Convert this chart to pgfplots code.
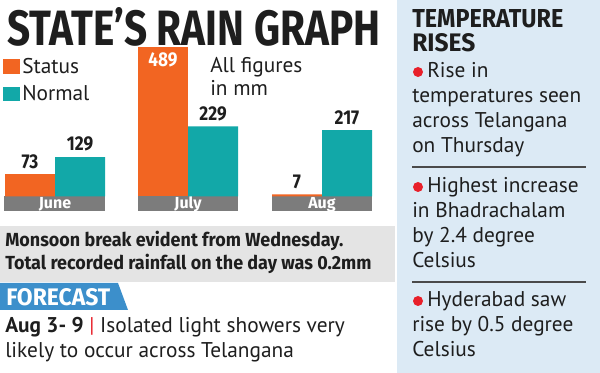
\documentclass[border=0pt]{standalone}
\usepackage{pgfplots}
\pgfplotsset{compat=1.18}
\usepackage{fontspec}
\setmainfont{PT Sans}
\newfontfamily\headfont{Fira Sans}[FakeStretch=0.86]
\newfontfamily\bodyhead{Fira Sans}[FakeStretch=0.95]
\newfontfamily\headfontw{Fira Sans}
\definecolor{orng}{HTML}{F26522}
\definecolor{teal2}{HTML}{12A8A8}
\definecolor{band}{HTML}{7C7C7C}
\definecolor{lgray}{HTML}{E4E4E4}
\definecolor{panel}{HTML}{DCEAF5}
\definecolor{fblue}{HTML}{3C8FCB}
\definecolor{bred}{HTML}{E8202A}
\definecolor{ink}{HTML}{1E1E1E}
\definecolor{sep}{HTML}{4A4A4A}
\begin{document}
\begin{tikzpicture}[x=0.75pt,y=0.75pt]
\fill[white] (0,0) rectangle (600,373);
\fill[panel] (397,0) rectangle (600,373);
\fill[lgray] (0,91) rectangle (395,147);
% category bands
\fill[band] (4,162) rectangle (105,176.5);
\fill[band] (138,162) rectangle (238,176.5);
\fill[band] (272,162) rectangle (372,176.5);
% title
\node[anchor=south west, inner sep=0] at (7,326) {\resizebox{279.75pt}{28.5pt}{\color{ink}\headfont\bfseries STATE’S RAIN GRAPH}};
% all figures
\node[anchor=base west, inner sep=0, text=ink, font=\fontsize{16}{19}\selectfont] at (210,300) {All figures};
\node[anchor=base west, inner sep=0, text=ink, font=\fontsize{16}{19}\selectfont] at (210,277) {in mm};
% chart
\begin{axis}[
  at={(0pt,132.375pt)}, anchor=south west, scale only axis,
  width=300pt, height=112.125pt,
  xmin=0, xmax=400, ymin=0, ymax=489,
  axis line style={draw=none}, ytick=\empty,
  xtick={55,188,322}, xticklabels={June,July,Aug},
  major tick length=0pt,
  xticklabel style={font=\headfontw\bfseries\fontsize{12}{12}\selectfont, text=white, anchor=base, yshift=-9pt},
  ybar, bar shift=0pt, bar width=37.5pt,
  clip=false,
  nodes near coords,
  /pgf/number format/assume math mode=true,
  every node near coord/.append style={font=\headfont\bfseries\fontsize{15}{15}\selectfont, text=ink, inner sep=0pt, anchor=south, yshift=4pt},
  legend style={at={(axis description cs:0.0075,0.94)}, anchor=north west, draw=none, fill=none,
    font=\fontsize{16}{19}\selectfont, inner sep=0pt, row sep=4.5pt, nodes={inner sep=1.5pt, text=ink}},
  legend cell align=left,
  legend image code/.code={\path[#1] (0pt,-5.6pt) rectangle (12.75pt,5.6pt);},
]
\addplot[fill=orng, draw=none] coordinates {(30,73) (297,7)};
\addlegendentry{Status}
\addplot[fill=teal2, draw=none] coordinates {(80,129) (213,229) (347,217)};
\addlegendentry{Normal}
\addplot[fill=orng, draw=none, forget plot, every node near coord/.append style={text=white, anchor=north, yshift=-8.25pt}] coordinates {(163,489)};
\end{axis}
% monsoon text
\node[anchor=base west, inner sep=0, text=ink, font=\bodyhead\bfseries\fontsize{14.2}{17}\selectfont] at (5,126) {Monsoon break evident from Wednesday.};
\node[anchor=base west, inner sep=0, text=ink, font=\bodyhead\bfseries\fontsize{14.2}{17}\selectfont] at (5,103) {Total recorded rainfall on the day was 0.2mm};
% forecast
\fill[fblue] (0,90) -- (118,90) -- (128,63) -- (0,63) -- cycle;
\node[anchor=south west, inner sep=0] at (6,67) {\resizebox{78pt}{12.75pt}{\color{white}\headfont\bfseries FORECAST}};
\node[anchor=base west, inner sep=0, text=ink, font=\fontsize{16}{19}\selectfont] at (5,40) {\textbf{Aug 3- 9} \textcolor{bred}{|} Isolated light showers very};
\node[anchor=base west, inner sep=0, text=ink, font=\fontsize{16}{19}\selectfont] at (5,15) {likely to occur across Telangana};
% right panel
\node[anchor=south west, inner sep=0] at (412,345) {\resizebox{113.25pt}{13.5pt}{\color{ink}\headfont\bfseries TEMPERATURE}};
\node[anchor=south west, inner sep=0] at (412,321) {\resizebox{47.25pt}{13.5pt}{\color{ink}\headfont\bfseries RISES}};
\begin{scope}[every node/.style={anchor=base west, inner sep=0, text=ink, font=\fontsize{16}{19}\selectfont}]
\fill[bred] (418,301) circle (5);
\node at (427,295) {Rise in};
\node at (412,270) {temperatures seen};
\node at (412,245) {across Telangana};
\node at (412,220) {on Thursday};
\draw[sep, line width=1.1pt] (412,206) -- (586,206);
\fill[bred] (418,186) circle (5);
\node at (427,180) {Highest increase};
\node at (412,155) {in Bhadrachalam};
\node at (412,130) {by 2.4 degree};
\node at (412,105) {Celsius};
\draw[sep, line width=1.1pt] (412,91) -- (586,91);
\fill[bred] (418,72) circle (5);
\node at (427,66) {Hyderabad saw};
\node at (412,41) {rise by 0.5 degree};
\node at (412,16) {Celsius};
\end{scope}
\end{tikzpicture}
\end{document}
